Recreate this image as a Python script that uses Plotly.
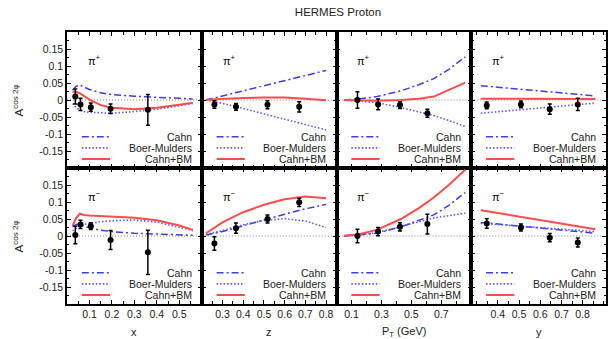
import plotly.graph_objects as go

# ---------------- data ----------------
title_text = "HERMES Proton"
series_names = ["Cahn", "Boer-Mulders", "Cahn+BM"]
hadron_labels = ["π<sup>+</sup>", "π<sup>−</sup>"]
var_titles = ["x", "z", "P<sub>T</sub> (GeV)", "y"]
y_tick_vals = [-0.15, -0.1, -0.05, 0, 0.05, 0.1, 0.15]
y_tick_text = ["-0.15", "-0.1", "-0.05", "0", "0.05", "0.1", "0.15"]

# x panel
x_pts = [0.037, 0.060, 0.106, 0.194, 0.360]
pip_x_val = [0.010, -0.013, -0.021, -0.026, -0.029]
pip_x_err = [0.022, 0.018, 0.012, 0.014, 0.045]
pim_x_val = [0.003, 0.034, 0.029, -0.012, -0.048]
pim_x_err = [0.026, 0.012, 0.010, 0.028, 0.065]
x_grid = [0.025, 0.04, 0.057, 0.075, 0.1, 0.15, 0.2, 0.3, 0.4, 0.5, 0.56]
pip_x_cahn = [0.029, 0.040, 0.044, 0.039, 0.031, 0.021, 0.016, 0.011, 0.009, 0.005, 0.003]
pip_x_bm = [-0.010, -0.022, -0.030, -0.034, -0.036, -0.038, -0.039, -0.034, -0.027, -0.017, -0.010]
pip_x_sum = [0.024, 0.024, 0.020, 0.013, 0.001, -0.015, -0.023, -0.027, -0.023, -0.014, -0.008]
pim_x_cahn = [0.027, 0.033, 0.035, 0.030, 0.024, 0.017, 0.013, 0.008, 0.006, 0.003, 0.002]
pim_x_bm = [0.015, 0.022, 0.030, 0.034, 0.037, 0.042, 0.045, 0.047, 0.041, 0.026, 0.016]
pim_x_sum = [0.029, 0.052, 0.066, 0.062, 0.060, 0.059, 0.058, 0.054, 0.046, 0.031, 0.018]

# z panel
z_pts = [0.261, 0.365, 0.517, 0.670]
pip_z_val = [-0.013, -0.020, -0.014, -0.020]
pip_z_err = [0.011, 0.010, 0.012, 0.015]
pim_z_val = [-0.022, 0.023, 0.050, 0.099]
pim_z_err = [0.020, 0.015, 0.012, 0.012]
z_grid = [0.22, 0.3, 0.4, 0.5, 0.6, 0.7, 0.8]
pip_z_cahn = [0.000, 0.012, 0.027, 0.042, 0.058, 0.073, 0.087]
pip_z_bm = [0.000, -0.010, -0.025, -0.041, -0.056, -0.071, -0.088]
pip_z_sum = [0.001, 0.004, 0.006, 0.007, 0.007, 0.004, -0.001]
pim_z_cahn = [0.003, 0.013, 0.030, 0.048, 0.064, 0.080, 0.093]
pim_z_bm = [0.005, 0.016, 0.033, 0.046, 0.051, 0.044, 0.025]
pim_z_sum = [0.008, 0.040, 0.070, 0.092, 0.108, 0.116, 0.111]

# P_T panel
pt_pts = [0.140, 0.278, 0.424, 0.607]
pip_pt_val = [0.000, -0.013, -0.015, -0.039]
pip_pt_err = [0.024, 0.016, 0.010, 0.012]
pim_pt_val = [0.000, 0.013, 0.027, 0.035]
pim_pt_err = [0.020, 0.012, 0.012, 0.029]
pt_grid = [0.05, 0.15, 0.27, 0.43, 0.55, 0.65, 0.75, 0.86]
pip_pt_cahn = [0.000, 0.003, 0.010, 0.027, 0.045, 0.063, 0.090, 0.127]
pip_pt_bm = [0.000, -0.003, -0.008, -0.022, -0.034, -0.046, -0.060, -0.078]
pip_pt_sum = [0.000, -0.001, -0.002, 0.000, 0.004, 0.010, 0.030, 0.051]
pim_pt_cahn = [0.000, 0.003, 0.008, 0.027, 0.045, 0.062, 0.090, 0.128]
pim_pt_bm = [0.000, 0.003, 0.010, 0.029, 0.043, 0.053, 0.060, 0.067]
pim_pt_sum = [0.001, 0.005, 0.018, 0.050, 0.082, 0.113, 0.150, 0.195]

# y panel
yv_pts = [0.348, 0.509, 0.645, 0.777]
pip_y_val = [-0.016, -0.013, -0.027, -0.013]
pip_y_err = [0.010, 0.010, 0.015, 0.018]
pim_y_val = [0.037, 0.025, -0.005, -0.019]
pim_y_err = [0.014, 0.010, 0.012, 0.013]
yv_grid = [0.32, 0.45, 0.6, 0.75, 0.86]
pip_y_cahn = [0.042, 0.035, 0.026, 0.018, 0.012]
pip_y_bm = [-0.039, -0.032, -0.023, -0.015, -0.009]
pip_y_sum = [0.004, 0.004, 0.004, 0.003, 0.003]
pim_y_cahn = [0.040, 0.032, 0.023, 0.014, 0.008]
pim_y_bm = [0.037, 0.031, 0.024, 0.018, 0.013]
pim_y_sum = [0.076, 0.062, 0.046, 0.031, 0.020]

# ---------------- styling ----------------
FONT = "Liberation Sans, Arial, Helvetica, sans-serif"
C_CAHN = "#3c3cf0"
C_BM = "#5a5aff"
C_SUM = "#ff4d4d"
styles = [
    dict(color=C_CAHN, width=1.5, dash="7px,3px,2px,3px"),
    dict(color=C_BM, width=1.6, dash="1.5px,2px"),
    dict(color=C_SUM, width=2),
]

columns = [
    dict(rng=[0, 0.6], tv=[0.1, 0.2, 0.3, 0.4, 0.5], tt=["0.1", "0.2", "0.3", "0.4", "0.5"],
         mdt=0.05, grid=x_grid, pts=x_pts,
         rows=[(pip_x_val, pip_x_err, pip_x_cahn, pip_x_bm, pip_x_sum),
               (pim_x_val, pim_x_err, pim_x_cahn, pim_x_bm, pim_x_sum)]),
    dict(rng=[0.2, 0.85], tv=[0.3, 0.4, 0.5, 0.6, 0.7, 0.8], tt=["0.3", "0.4", "0.5", "0.6", "0.7", "0.8"],
         mdt=0.05, grid=z_grid, pts=z_pts,
         rows=[(pip_z_val, pip_z_err, pip_z_cahn, pip_z_bm, pip_z_sum),
               (pim_z_val, pim_z_err, pim_z_cahn, pim_z_bm, pim_z_sum)]),
    dict(rng=[0, 0.9], tv=[0.1, 0.3, 0.5, 0.7], tt=["0.1", "0.3", "0.5", "0.7"],
         mdt=0.1, grid=pt_grid, pts=pt_pts,
         rows=[(pip_pt_val, pip_pt_err, pip_pt_cahn, pip_pt_bm, pip_pt_sum),
               (pim_pt_val, pim_pt_err, pim_pt_cahn, pim_pt_bm, pim_pt_sum)]),
    dict(rng=[0.275, 0.91], tv=[0.4, 0.5, 0.6, 0.7, 0.8], tt=["0.4", "0.5", "0.6", "0.7", "0.8"],
         mdt=0.05, grid=yv_grid, pts=yv_pts,
         rows=[(pip_y_val, pip_y_err, pip_y_cahn, pip_y_bm, pip_y_sum),
               (pim_y_val, pim_y_err, pim_y_cahn, pim_y_bm, pim_y_sum)]),
]

fig = go.Figure()
layout = {}
shapes = []
annotations = []

ncol = 4
for r in range(2):
    for c, col in enumerate(columns):
        idx = r * ncol + c + 1
        xa = "x" if idx == 1 else f"x{idx}"
        ya = "y" if idx == 1 else f"y{idx}"
        xkey = "xaxis" if idx == 1 else f"xaxis{idx}"
        ykey = "yaxis" if idx == 1 else f"yaxis{idx}"
        val, err, cahn, bm, tot = col["rows"][r]

        for name, yvals, st in zip(series_names, [cahn, bm, tot], styles):
            fig.add_trace(go.Scatter(x=col["grid"], y=yvals, mode="lines", name=name,
                                     line=st, xaxis=xa, yaxis=ya, showlegend=False))
        fig.add_trace(go.Scatter(x=col["pts"], y=val, mode="markers",
                                 marker=dict(color="black", size=6),
                                 error_y=dict(type="data", array=err, color="black",
                                              thickness=1.5, width=2),
                                 xaxis=xa, yaxis=ya, showlegend=False))

        x0 = c / ncol
        x1 = (c + 1) / ncol
        y0 = 0.5 if r == 0 else 0.0
        y1 = 1.0 if r == 0 else 0.5
        layout[xkey] = dict(
            domain=[x0, x1], anchor=ya, range=col["rng"], tickmode="array",
            tickvals=col["tv"], ticktext=col["tt"], showticklabels=(r == 1),
            ticks="inside", ticklen=4, tickcolor="black", tickwidth=1,
            showline=True, linecolor="black", linewidth=1.5, mirror="allticks",
            showgrid=False, zeroline=False,
            minor=dict(ticks="inside", ticklen=3, dtick=col["mdt"], tick0=0, tickcolor="black"),
            tickfont=dict(family=FONT, size=10.5, color="#222"),
        )
        layout[ykey] = dict(
            domain=[y0, y1], anchor=xa, range=[-0.2, 0.2], tickmode="array",
            tickvals=y_tick_vals, ticktext=y_tick_text, showticklabels=(c == 0),
            ticks="inside", ticklen=4, tickcolor="black", tickwidth=1,
            showline=True, linecolor="black", linewidth=1.5, mirror="allticks",
            showgrid=False, zeroline=False,
            minor=dict(ticks="inside", ticklen=2.5, dtick=0.025, tick0=0, tickcolor="black"),
            tickfont=dict(family=FONT, size=10.5, color="#222"),
        )

        # zero line
        shapes.append(dict(type="line", xref=f"{xa} domain", yref=ya, x0=0, x1=1, y0=0, y1=0,
                           line=dict(color="#888", width=1, dash="1px,2px"), layer="below"))
        # hadron label
        annotations.append(dict(text=hadron_labels[r], xref=f"{xa} domain", yref=f"{ya} domain",
                                x=0.14, y=0.86, showarrow=False,
                                font=dict(family=FONT, size=11, color="black")))
        # in-panel legend
        for k, (name, st) in enumerate(zip(series_names, styles)):
            ly = [0.23, 0.148, 0.066][k]
            shapes.append(dict(type="line", xref=f"{xa} domain", yref=f"{ya} domain",
                               x0=0.11, x1=0.32, y0=ly, y1=ly, line=st))
            annotations.append(dict(text=name, xref=f"{xa} domain", yref=f"{ya} domain",
                                    x=0.94, y=ly, xanchor="right", yanchor="middle",
                                    showarrow=False,
                                    font=dict(family=FONT, size=10.5, color="#222")))

# axis titles
for c, t in enumerate(var_titles):
    annotations.append(dict(text=t, xref="paper", yref="paper", x=(c + 0.5) / ncol, y=-0.103,
                            xanchor="center", yanchor="middle", showarrow=False,
                            font=dict(family=FONT, size=11, color="#222")))
for yc in [0.75, 0.25]:
    annotations.append(dict(text="A<sup>cos 2φ</sup>", xref="paper", yref="paper",
                            x=-0.09, y=yc, xanchor="center", yanchor="middle", textangle=-90,
                            showarrow=False, font=dict(family=FONT, size=11.5, color="#222")))

fig.update_layout(
    **layout,
    width=609, height=339,
    margin=dict(l=67, r=1, t=32, b=35),
    paper_bgcolor="white", plot_bgcolor="white",
    title=dict(text=title_text, x=0.555, xanchor="center", y=1 - 12 / 339, yanchor="middle",
               yref="container", font=dict(family=FONT, size=11.5, color="#222")),
    shapes=shapes, annotations=annotations, showlegend=False,
)

fig.write_html("out.html", config={"displayModeBar": False},
               post_script="document.body.style.margin='0';")
